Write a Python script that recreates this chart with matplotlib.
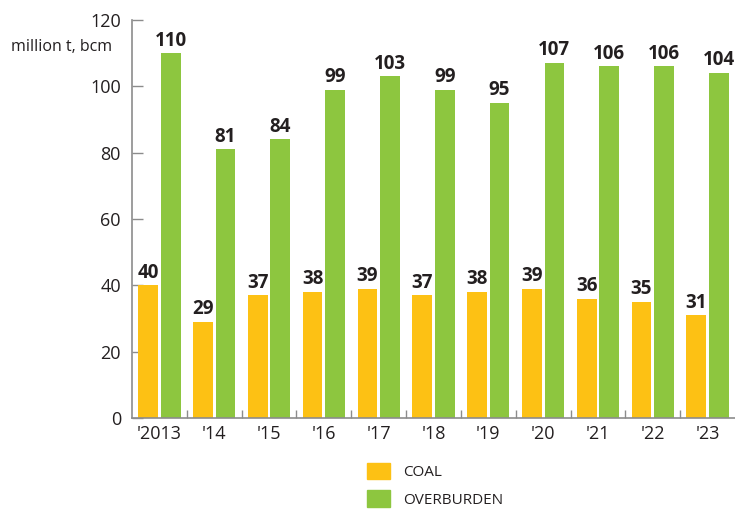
import matplotlib
matplotlib.use('Agg')
import matplotlib.pyplot as plt
import matplotlib.patches as mpatches
import numpy as np

plt.rcParams['font.family'] = ['Open Sans', 'DejaVu Sans']

years = ["'2013", "'14", "'15", "'16", "'17", "'18", "'19", "'20", "'21", "'22", "'23"]
coal = [40, 29, 37, 38, 39, 37, 38, 39, 36, 35, 31]
overburden = [110, 81, 84, 99, 103, 99, 95, 107, 106, 106, 104]

C_COAL = '#FDC114'
C_OB = '#8DC63F'
C_AXIS = '#8C8C8C'
C_TEXT = '#231F20'

fig = plt.figure(figsize=(7.35, 5.13), dpi=100)
ax = fig.add_axes([132 / 735, 95 / 513, 603 / 735, 398 / 513])

x = np.arange(len(years))
w = 0.36
off = 0.205
ax.bar(x - off, coal, w, color=C_COAL, zorder=2)
ax.bar(x + off, overburden, w, color=C_OB, zorder=2)

for xi, c, o in zip(x, coal, overburden):
    ax.text(xi - off, c + 0.8, str(c), ha='center', va='bottom',
            fontsize=13.5, fontweight='bold', color=C_TEXT)
    ax.text(xi + off, o + 0.8, str(o), ha='center', va='bottom',
            fontsize=13.5, fontweight='bold', color=C_TEXT)

ax.set_xlim(-0.5, len(years) - 0.5)
ax.set_ylim(0, 120)
ax.set_yticks(range(0, 121, 20))
ax.tick_params(axis='y', direction='in', length=8, width=1, color=C_AXIS,
               labelsize=13, labelcolor=C_TEXT, pad=8)
ax.set_xticks(x)
ax.set_xticklabels(years)
ax.tick_params(axis='x', which='major', length=0, labelsize=13,
               labelcolor=C_TEXT, pad=5)
ax.set_xticks(x[:-1] + 0.5, minor=True)
ax.tick_params(axis='x', which='minor', direction='in', length=6, width=1,
               color=C_AXIS)

for s in ['top', 'right']:
    ax.spines[s].set_visible(False)
for s in ['left', 'bottom']:
    ax.spines[s].set_color(C_AXIS)
    ax.spines[s].set_linewidth(1.2)

ax.text(112 / 735, 1 - 47 / 513, 'million t, bcm', ha='right', va='center',
        fontsize=11.5, color=C_TEXT, transform=fig.transFigure)

handles = [mpatches.Patch(color=C_COAL, label='COAL'),
           mpatches.Patch(color=C_OB, label='OVERBURDEN')]
fig.legend(handles=handles, loc='upper left', bbox_to_anchor=(356 / 735, 1 - 452 / 513),
           frameon=False, fontsize=11, handlelength=1.5, handleheight=1.3,
           handletextpad=0.9, labelspacing=0.65, labelcolor=C_TEXT,
           borderaxespad=0.3)

fig.savefig('out.png', dpi=100)
